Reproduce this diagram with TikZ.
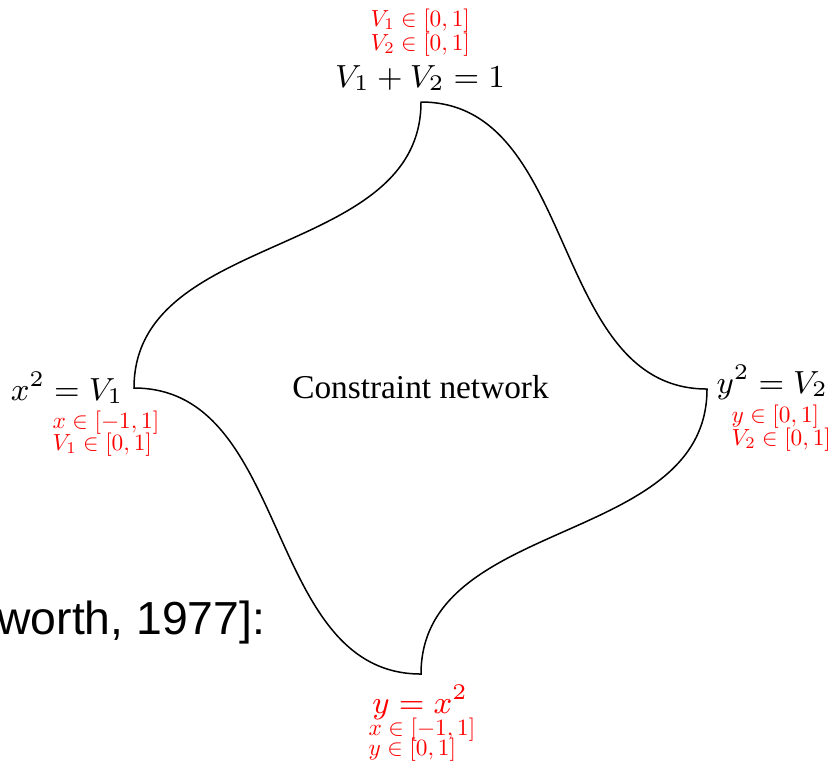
\documentclass[tikz,border=0pt]{standalone}
\usepackage{fix-cm}
\usepackage{graphicx}
\usepackage{fontspec}
\newfontfamily\timesfont{Liberation Serif}
\newfontfamily\arialfont{Liberation Sans}
\newcommand\dommath[1]{\scalebox{0.70}{$#1$}}
\begin{document}
\begin{tikzpicture}[x=0.3pt,y=-0.3pt,
  lbl/.style={inner sep=0pt, anchor=base, font=\fontsize{9.6}{11}\selectfont},
  dom/.style={text=red, inner sep=0pt, anchor=base west},
  outline/.style={draw=black, line width=0.45pt}]
\useasboundingbox (0,0) rectangle (829,764);
\clip (0,0) rectangle (829,764);
\coordinate (T) at (421,102);
\coordinate (L) at (134,388);
\coordinate (R) at (707,389);
\coordinate (B) at (421,674);
\draw[outline] (L) .. controls (134,230) and (421,260) .. (T)
  .. controls (579,102) and (549,389) .. (R)
  .. controls (707,547) and (421,516) .. (B)
  .. controls (263,674) and (292,388) .. (L) -- cycle;
\node[lbl] (top) at (420,87) {$V_1+V_2=1$};
\node[dom] (top1) at (370,26) {\dommath{V_1\in[0,1]}};
\node[dom] (top2) at (370,50) {\dommath{V_2\in[0,1]}};
\node[lbl, anchor=base east] (left) at (124,400) {$x^2=V_1$};
\node[dom] (left1) at (52,428) {\dommath{x\in[-1,1]}};
\node[dom] (left2) at (52,450) {\dommath{V_1\in[0,1]}};
\node[lbl, anchor=base west] (right) at (716,393) {$y^2=V_2$};
\node[dom] (right1) at (731,422) {\dommath{y\in[0,1]}};
\node[dom] (right2) at (731,445) {\dommath{V_2\in[0,1]}};
\node[lbl, text=red] (bot) at (420,713) {$y=x^2$};
\node[dom] (bot1) at (368,735) {\dommath{x\in[-1,1]}};
\node[dom] (bot2) at (368,755) {\dommath{y\in[0,1]}};
\node[inner sep=0pt, anchor=base, font=\timesfont] (cn) at (420.5,398) {Constraint network};
\node[inner sep=0pt, anchor=base east, font=\arialfont\fontsize{13.9}{16}\selectfont] (cite) at (266,634) {Mackworth, 1977]:};
\end{tikzpicture}
\end{document}
